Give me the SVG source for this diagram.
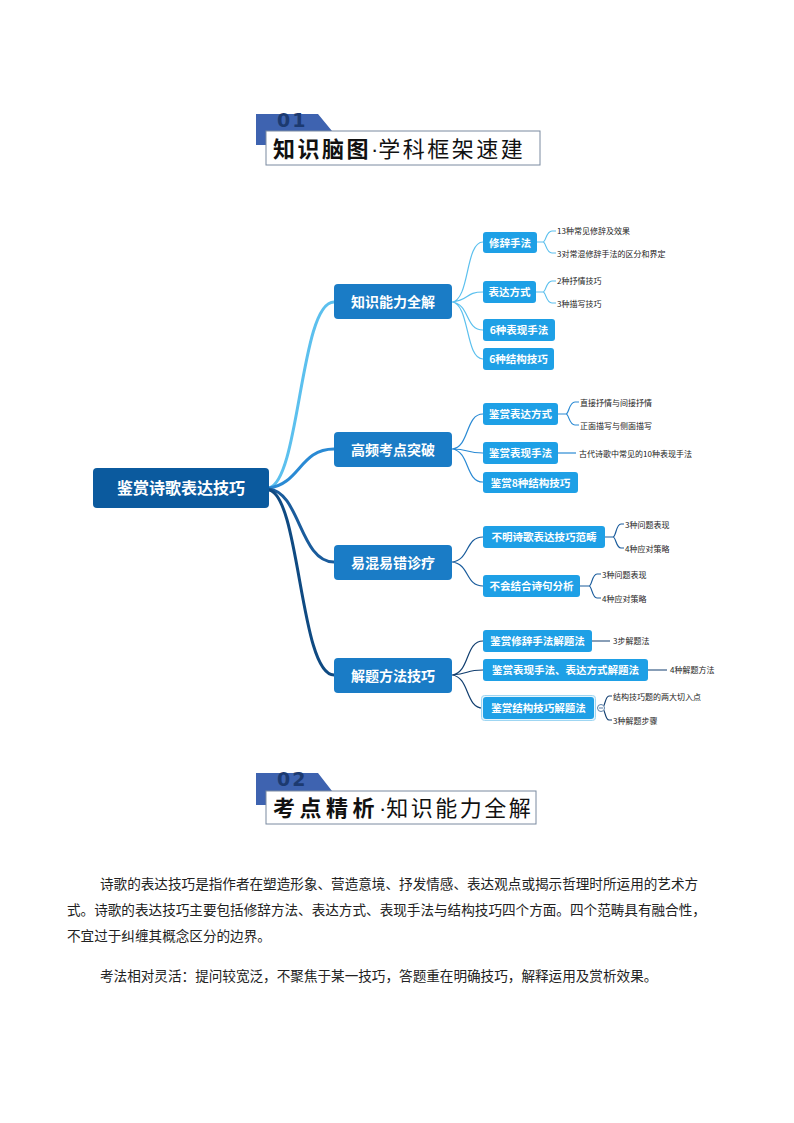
<svg xmlns="http://www.w3.org/2000/svg" width="794" height="1123" viewBox="0 0 794 1123">
<style>
text{font-family:"Noto Sans CJK SC","Liberation Sans",sans-serif}
.r{fill:#0b5a9e}
.l1{fill:#1a7cc6}
.l2{fill:#1ea0e6}
.t0{fill:#fff;font-size:16px;font-weight:bold}
.t1{fill:#fff;font-size:14px;font-weight:bold}
.t2{fill:#fff;font-size:10.5px;font-weight:bold}
.t3{fill:#222;font-size:8px}
.c{fill:none;stroke-linecap:round}
.b1{stroke:#5cc0ee;stroke-width:1.2;fill:none}
.b2{stroke:#2a8ad4;stroke-width:1.2;fill:none}
.b3{stroke:#1a5c9c;stroke-width:1.2;fill:none}
.b4{stroke:#123f70;stroke-width:1.2;fill:none}
.hd{fill:#3e63b0}
.hb{fill:#fff;stroke:#7a8aa0;stroke-width:1}
.ht{font-size:22px;fill:#111;letter-spacing:2.5px}
.dot{font-family:"Liberation Sans",sans-serif;letter-spacing:0}
.num{font-size:19px;font-weight:bold;fill:#1c3a70;font-family:"DejaVu Sans",sans-serif;letter-spacing:2px}
.p{font-size:13.6px;fill:#222}
</style>
<g id="header1">
<path class="hd" d="M256 114 H318 L332 131 H266 V145 H256 Z"/>
<text class="num" x="277" y="127">01</text>
<rect class="hb" x="266" y="131" width="274" height="34"/>
<text class="ht" x="273" y="157"><tspan font-weight="bold">知识脑图</tspan><tspan class="dot">·</tspan>学科框架速建</text>
</g>
<g id="connectors">
<path class="c" stroke="#5cc0ee" stroke-width="3" d="M269 488 C300 480 300 302 334 302"/>
<path class="c" stroke="#2a8ad4" stroke-width="3" d="M269 488 C300 484 300 449 334 449"/>
<path class="c" stroke="#1a5c9c" stroke-width="3" d="M269 489 C300 492 300 562 334 562"/>
<path class="c" stroke="#0f4a82" stroke-width="3" d="M269 490 C300 496 300 675 334 675"/>
<path class="b1" d="M452 302 C470 300 465 242 483 242 M452 302 C470 300 465 292 483 292 M452 302 C470 304 465 330 483 330 M452 302 C470 304 465 359 483 359"/>
<path class="b1" d="M537 242 H543 M543 242 C546 242 546 231 552 231 H556 M543 242 C546 242 546 253 552 253 H556"/>
<path class="b1" d="M536 292 H543 M543 292 C546 292 546 281 552 281 H556 M543 292 C546 292 546 303 552 303 H556"/>
<path class="b2" d="M452 449 C470 447 465 414 483 414 M452 449 C470 449 465 453 483 453 M452 449 C470 451 465 482 483 482"/>
<path class="b2" d="M558 414 H566 M566 414 C569 414 569 402 575 402 H579 M566 414 C569 414 569 425 575 425 H579"/>
<path class="b2" d="M558 453 H576"/>
<path class="b3" d="M452 562 C470 560 465 537 483 537 M452 562 C470 564 465 586 483 586"/>
<path class="b3" d="M605 537 H613 M613 537 C616 537 616 524 621 524 H624 M613 537 C616 537 616 548 621 548 H624"/>
<path class="b3" d="M580 586 H589 M589 586 C592 586 592 574 597 574 H601 M589 586 C592 586 592 598 597 598 H601"/>
<path class="b4" d="M452 675 C470 673 465 641 483 641 M452 675 C470 674 465 670 483 670 M452 675 C470 677 465 708 483 708"/>
<path class="b4" d="M592 641 H610 M648 670 H667"/>
<path class="b4" d="M598 708 H602 M602 708 C605 708 605 696 609 696 H612 M602 708 C605 708 605 720 609 720 H612"/>
<circle cx="601" cy="708" r="3.5" fill="#fff" stroke="#5a7fa8" stroke-width="1"/>
<line x1="599" y1="708" x2="603" y2="708" stroke="#5a7fa8" stroke-width="1"/>
</g>
<g id="root"><rect class="r" x="93" y="468" width="176" height="40" rx="4"/><text class="t0" x="181" y="494" text-anchor="middle">鉴赏诗歌表达技巧</text></g>
<g id="n1"><rect class="l1" x="334" y="284" width="118" height="35" rx="4"/><text class="t1" x="393" y="307" text-anchor="middle">知识能力全解</text></g>
<g id="n2"><rect class="l1" x="334" y="432" width="118" height="35" rx="4"/><text class="t1" x="393" y="455" text-anchor="middle">高频考点突破</text></g>
<g id="n3"><rect class="l1" x="334" y="545" width="118" height="35" rx="4"/><text class="t1" x="393" y="568" text-anchor="middle">易混易错诊疗</text></g>
<g id="n4"><rect class="l1" x="334" y="658" width="118" height="35" rx="4"/><text class="t1" x="393" y="681" text-anchor="middle">解题方法技巧</text></g>
<g id="n1a"><rect class="l2" x="483" y="232" width="54" height="21" rx="3"/><text class="t2" x="510" y="246.5" text-anchor="middle">修辞手法</text></g>
<g id="n1b"><rect class="l2" x="483" y="281" width="53" height="22" rx="3"/><text class="t2" x="509.5" y="296" text-anchor="middle">表达方式</text></g>
<g id="n1c"><rect class="l2" x="483" y="319" width="72" height="22" rx="3"/><text class="t2" x="519" y="334" text-anchor="middle">6种表现手法</text></g>
<g id="n1d"><rect class="l2" x="483" y="348" width="71" height="22" rx="3"/><text class="t2" x="518.5" y="363" text-anchor="middle">6种结构技巧</text></g>
<g id="n2a"><rect class="l2" x="483" y="403" width="75" height="22" rx="3"/><text class="t2" x="520.5" y="418" text-anchor="middle">鉴赏表达方式</text></g>
<g id="n2b"><rect class="l2" x="483" y="442" width="75" height="22" rx="3"/><text class="t2" x="520.5" y="457" text-anchor="middle">鉴赏表现手法</text></g>
<g id="n2c"><rect class="l2" x="483" y="472" width="95" height="21" rx="3"/><text class="t2" x="530.5" y="486.5" text-anchor="middle">鉴赏8种结构技巧</text></g>
<g id="n3a"><rect class="l2" x="483" y="526" width="122" height="22" rx="3"/><text class="t2" x="544" y="541" text-anchor="middle">不明诗歌表达技巧范畴</text></g>
<g id="n3b"><rect class="l2" x="483" y="575" width="97" height="22" rx="3"/><text class="t2" x="531.5" y="590" text-anchor="middle">不会结合诗句分析</text></g>
<g id="n4a"><rect class="l2" x="483" y="630" width="109" height="22" rx="3"/><text class="t2" x="537.5" y="645" text-anchor="middle">鉴赏修辞手法解题法</text></g>
<g id="n4b"><rect class="l2" x="483" y="659" width="165" height="22" rx="3"/><text class="t2" x="565.5" y="674" text-anchor="middle">鉴赏表现手法、表达方式解题法</text></g>
<g id="n4c"><rect x="481.5" y="695.5" width="114" height="25" rx="3" fill="#e6f5fc" stroke="#9fd6f2"/><rect class="l2" x="483" y="697" width="111" height="22" rx="3"/><text class="t2" x="538.5" y="712" text-anchor="middle">鉴赏结构技巧解题法</text></g>
<g id="leaves">
<text class="t3" x="557" y="234">13种常见修辞及效果</text>
<text class="t3" x="557" y="257">3对常混修辞手法的区分和界定</text>
<text class="t3" x="557" y="284">2种抒情技巧</text>
<text class="t3" x="557" y="307">3种描写技巧</text>
<text class="t3" x="580" y="406">直接抒情与间接抒情</text>
<text class="t3" x="580" y="429">正面描写与侧面描写</text>
<text class="t3" x="579" y="457">古代诗歌中常见的10种表现手法</text>
<text class="t3" x="625" y="528">3种问题表现</text>
<text class="t3" x="625" y="552">4种应对策略</text>
<text class="t3" x="602" y="578">3种问题表现</text>
<text class="t3" x="602" y="602">4种应对策略</text>
<text class="t3" x="613" y="644">3步解题法</text>
<text class="t3" x="670" y="673">4种解题方法</text>
<text class="t3" x="613" y="700">结构技巧题的两大切入点</text>
<text class="t3" x="613" y="724">3种解题步骤</text>
</g>
<g id="header2">
<path class="hd" d="M256 773 H318 L332 791 H266 V805 H256 Z"/>
<text class="num" x="277" y="786">02</text>
<rect class="hb" x="266" y="791" width="270" height="33"/>
<text class="ht" x="273" y="816"><tspan font-weight="bold" letter-spacing="4.5">考点精析</tspan><tspan class="dot">·</tspan>知识能力全解</text>
</g>
<g id="body">
<text class="p" x="100" y="889">诗歌的表达技巧是指作者在塑造形象、营造意境、抒发情感、表达观点或揭示哲理时所运用的艺术方</text>
<text class="p" x="67" y="915">式。诗歌的表达技巧主要包括修辞方法、表达方式、表现手法与结构技巧四个方面。四个范畴具有融合性，</text>
<text class="p" x="67" y="941">不宜过于纠缠其概念区分的边界。</text>
<text class="p" x="100" y="981">考法相对灵活：提问较宽泛，不聚焦于某一技巧，答题重在明确技巧，解释运用及赏析效果。</text>
</g>
</svg>
